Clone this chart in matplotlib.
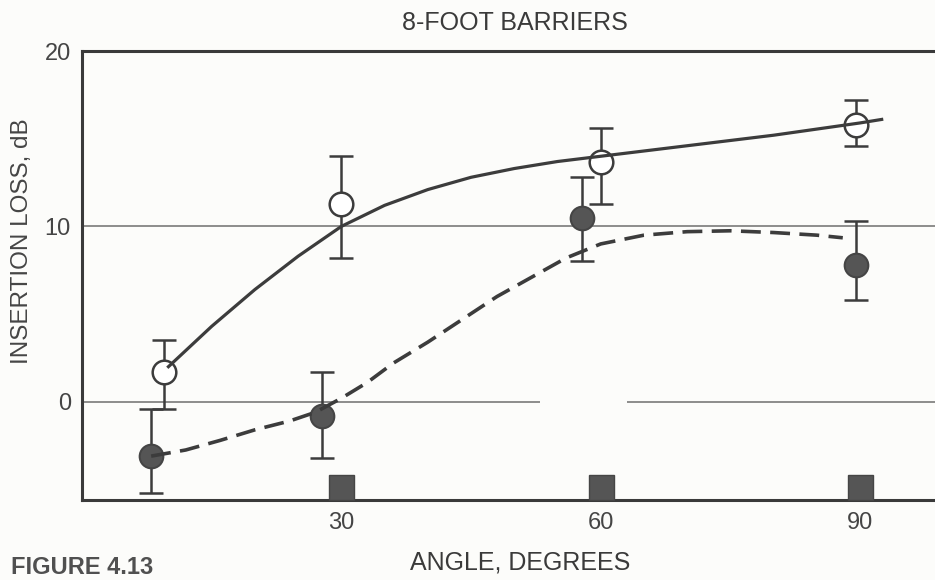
import numpy as np
from matplotlib import pyplot as plt

plt.rcParams['font.family'] = ['Liberation Sans', 'DejaVu Sans']

# open circles (solid curve)
open_x = [9.5, 30, 60, 89.5]
open_y = [1.7, 11.3, 13.7, 15.8]
open_lo = [-0.4, 8.2, 11.3, 14.6]
open_hi = [3.5, 14.0, 15.6, 17.2]

# filled circles (dashed curve)
fill_x = [8, 27.8, 57.8, 89.5]
fill_y = [-3.1, -0.8, 10.5, 7.8]
fill_lo = [-5.2, -3.2, 8.0, 5.8]
fill_hi = [-0.4, 1.7, 12.8, 10.3]

# squares on the bottom axis
sq_x = [30, 60, 90]
sq_y = [-4.85, -4.85, -4.85]

# curves
solid_x = [10, 15, 20, 25, 30, 35, 40, 45, 50, 55, 60, 70, 80, 90, 92.5]
solid_y = [2.0, 4.3, 6.4, 8.3, 10.0, 11.2, 12.1, 12.8, 13.3, 13.7, 14.0, 14.6, 15.2, 15.9, 16.1]
dash_x = [8, 12, 16, 20, 24, 27, 30, 33, 36, 40, 44, 48, 52, 56, 60, 65, 70, 75, 80, 85, 88]
dash_y = [-3.1, -2.75, -2.2, -1.6, -1.1, -0.6, 0.2, 1.1, 2.2, 3.4, 4.7, 6.0, 7.1, 8.2, 9.0,
          9.5, 9.7, 9.75, 9.65, 9.5, 9.35]

ink = '#3c3c3c'
bg = '#fcfcfa'
txt = '#454545'

fig = plt.figure(figsize=(9.35, 5.8), dpi=100)
fig.patch.set_facecolor(bg)
ax = fig.add_axes([0.0877, 0.138, 0.92, 0.774])
ax.set_facecolor(bg)

# grid lines at 0 and 10 (the 0 line has a gap in the print)
ax.axhline(10, color='#6e6e6e', lw=1.1, zorder=1)
ax.hlines(0, 0, 53, color='#6e6e6e', lw=1.1, zorder=1)
ax.hlines(0, 63, 100, color='#6e6e6e', lw=1.1, zorder=1)

# error bars
e_open = np.array([np.array(open_y) - np.array(open_lo), np.array(open_hi) - np.array(open_y)])
e_fill = np.array([np.array(fill_y) - np.array(fill_lo), np.array(fill_hi) - np.array(fill_y)])
ax.errorbar(open_x, open_y, yerr=e_open, fmt='none', ecolor=ink, elinewidth=1.8,
            capsize=8.5, capthick=1.8, zorder=2)
ax.errorbar(fill_x, fill_y, yerr=e_fill, fmt='none', ecolor=ink, elinewidth=1.8,
            capsize=8.5, capthick=1.8, zorder=2)

ax.plot(open_x, open_y, 'o', ms=17, mfc='white', mec=ink, mew=1.8, zorder=3)
ax.plot(fill_x, fill_y, 'o', ms=17, mfc='#555555', mec='#454545', mew=1.5, zorder=3)
ax.plot(sq_x, sq_y, 's', ms=18, mfc='#555555', mec='#454545', mew=1, zorder=3)

ax.plot(solid_x, solid_y, '-', color=ink, lw=2.3, zorder=4)
ax.plot(dash_x, dash_y, color=ink, lw=2.6, ls=(0, (5.5, 2.6)), zorder=4)

ax.set_xlim(0, 99.5)
ax.set_ylim(-5.6, 20)
ax.set_xticks([30, 60, 90])
ax.set_yticks([0, 10, 20])
ax.tick_params(length=0, labelsize=17, colors=txt)
ax.tick_params(axis='x', pad=9)
ax.tick_params(axis='y', pad=8)

for s in ['left', 'top', 'bottom']:
    ax.spines[s].set_color('#3a3a3a')
    ax.spines[s].set_linewidth(2.2)
ax.spines['right'].set_visible(False)

fig.text(0.024, 0.585, 'INSERTION LOSS, dB', rotation=90, ha='center', va='center',
         fontsize=17.5, color=txt)
fig.text(0.551, 0.96, '8-FOOT BARRIERS', ha='center', va='center', fontsize=18, color='#3a3a3a')
fig.text(0.556, 0.031, 'ANGLE, DEGREES', ha='center', va='center', fontsize=18, color='#3a3a3a')
fig.text(0.012, 0.022, 'FIGURE 4.13', ha='left', va='center', fontsize=17,
         fontweight='bold', color='#505050')

fig.savefig('out.png', dpi=100, facecolor=fig.get_facecolor())
